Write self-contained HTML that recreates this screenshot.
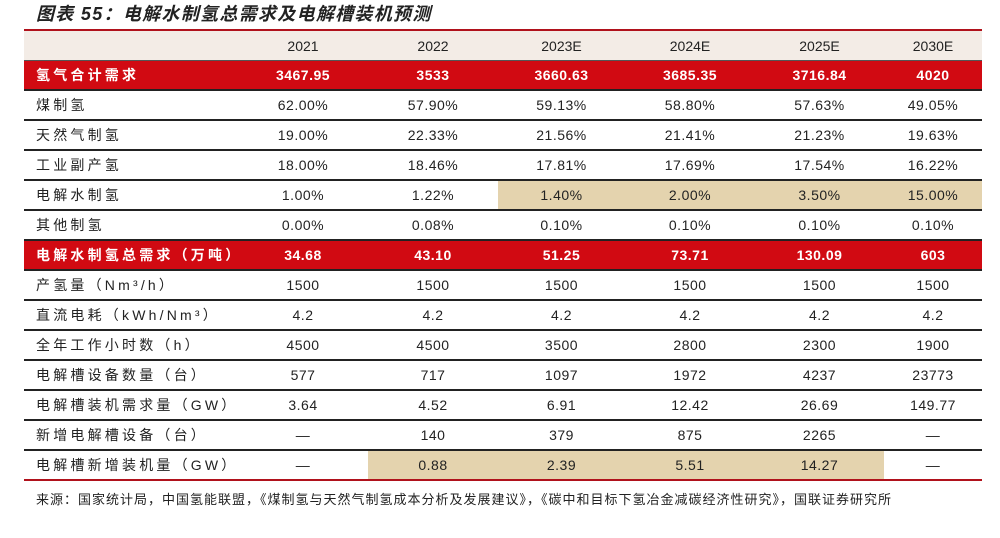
<!DOCTYPE html>
<html><head><meta charset="utf-8"><style>
body{margin:0;width:1000px;height:538px;background:#fff;position:relative;overflow:hidden;font-family:"Liberation Sans","Noto Sans CJK SC",sans-serif;color:#222}
.title{position:absolute;left:36px;top:0px;font-size:18px;font-weight:bold;font-style:italic;letter-spacing:1.3px;color:#222}
table{position:absolute;left:24px;top:29px;border-collapse:collapse;table-layout:fixed;width:958px;border-top:2px solid #b0121c}
td{height:28px;padding:0;text-align:center;font-size:14px;border-bottom:2px solid #222;white-space:nowrap;letter-spacing:0.5px}
td:first-child{text-align:left;padding-left:12px;letter-spacing:3.2px}
tr.h td{background:#f3ece6;height:29px;border-bottom:1px solid #555;letter-spacing:0}
tr.r td{background:#d10a12;color:#fff;font-weight:bold}
tr.last td{border-bottom:2px solid #b0121c}
.y{background:#e4d3ae}
.foot{position:absolute;left:36px;top:489px;font-size:13px;letter-spacing:1px;color:#222}
</style></head><body>
<div class="title">图表 55：电解水制氢总需求及电解槽装机预测</div>
<table>
<colgroup><col style="width:214px"><col style="width:130px"><col style="width:130px"><col style="width:127px"><col style="width:130px"><col style="width:129px"><col style="width:98px"></colgroup>
<tr class="h"><td></td><td>2021</td><td>2022</td><td>2023E</td><td>2024E</td><td>2025E</td><td>2030E</td></tr>
<tr class="r"><td>氢气合计需求</td><td>3467.95</td><td>3533</td><td>3660.63</td><td>3685.35</td><td>3716.84</td><td>4020</td></tr>
<tr><td>煤制氢</td><td>62.00%</td><td>57.90%</td><td>59.13%</td><td>58.80%</td><td>57.63%</td><td>49.05%</td></tr>
<tr><td>天然气制氢</td><td>19.00%</td><td>22.33%</td><td>21.56%</td><td>21.41%</td><td>21.23%</td><td>19.63%</td></tr>
<tr><td>工业副产氢</td><td>18.00%</td><td>18.46%</td><td>17.81%</td><td>17.69%</td><td>17.54%</td><td>16.22%</td></tr>
<tr><td>电解水制氢</td><td>1.00%</td><td>1.22%</td><td class="y">1.40%</td><td class="y">2.00%</td><td class="y">3.50%</td><td class="y">15.00%</td></tr>
<tr><td>其他制氢</td><td>0.00%</td><td>0.08%</td><td>0.10%</td><td>0.10%</td><td>0.10%</td><td>0.10%</td></tr>
<tr class="r"><td>电解水制氢总需求（万吨）</td><td>34.68</td><td>43.10</td><td>51.25</td><td>73.71</td><td>130.09</td><td>603</td></tr>
<tr><td>产氢量（Nm³/h）</td><td>1500</td><td>1500</td><td>1500</td><td>1500</td><td>1500</td><td>1500</td></tr>
<tr><td>直流电耗（kWh/Nm³）</td><td>4.2</td><td>4.2</td><td>4.2</td><td>4.2</td><td>4.2</td><td>4.2</td></tr>
<tr><td>全年工作小时数（h）</td><td>4500</td><td>4500</td><td>3500</td><td>2800</td><td>2300</td><td>1900</td></tr>
<tr><td>电解槽设备数量（台）</td><td>577</td><td>717</td><td>1097</td><td>1972</td><td>4237</td><td>23773</td></tr>
<tr><td>电解槽装机需求量（GW）</td><td>3.64</td><td>4.52</td><td>6.91</td><td>12.42</td><td>26.69</td><td>149.77</td></tr>
<tr><td>新增电解槽设备（台）</td><td>—</td><td>140</td><td>379</td><td>875</td><td>2265</td><td>—</td></tr>
<tr class="last"><td>电解槽新增装机量（GW）</td><td>—</td><td class="y">0.88</td><td class="y">2.39</td><td class="y">5.51</td><td class="y">14.27</td><td>—</td></tr>
</table>
<div class="foot">来源：国家统计局，中国氢能联盟，《煤制氢与天然气制氢成本分析及发展建议》，《碳中和目标下氢冶金减碳经济性研究》，国联证券研究所</div>
</body></html>
